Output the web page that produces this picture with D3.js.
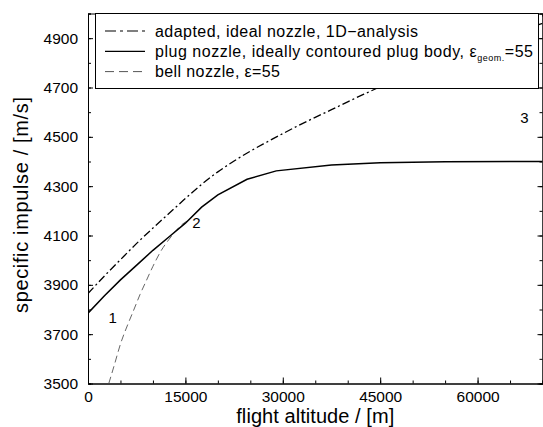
<!DOCTYPE html>
<html>
<head>
<meta charset="utf-8">
<script src="https://cdn.jsdelivr.net/npm/d3@7"></script>
<style>
  body { margin: 0; background: #fff; }
  svg { display: block; font-family: "Liberation Sans", Arial, Helvetica, sans-serif; }
  .axis path { stroke: #000; }
  .axis line { stroke: #000; }
</style>
</head>
<body>
<div id="chart"></div>
<script>
// flight altitude [m] vs. specific impulse [m/s]
const altAdapted = [0, 2500, 5000, 7500, 10000, 12500, 15000, 17500, 20000, 22500, 25000, 27500, 30000, 32500, 35000, 37500, 40000, 42500, 45000, 50000, 55000, 60000, 65000, 70000]
const ispAdapted = [3865, 3935, 4002, 4068, 4130, 4190, 4250, 4307, 4358, 4402, 4442, 4478, 4513, 4547, 4579, 4610, 4642, 4673, 4703, 4762, 4818, 4868, 4915, 4960]

const altPlug = [0, 2500, 5000, 7500, 10000, 12500, 15000, 17500, 20000, 24500, 29000, 37500, 45000, 55000, 70000]
const ispPlug = [3785, 3855, 3920, 3980, 4040, 4095, 4150, 4215, 4265, 4328, 4362, 4386, 4395, 4399, 4400]

const altBell = [3200, 4000, 5000, 6200, 7000, 8000, 9000, 10000, 11300, 12500, 13400, 14500, 15500]
const ispBell = [3500, 3570, 3660, 3744, 3795, 3860, 3918, 3975, 4040, 4085, 4115, 4145, 4162]

const xTicks = [0, 15000, 30000, 45000, 60000]
const xMinor = d3.range(0, 70001, 5000)
const yTicks = [3500, 3700, 3900, 4100, 4300, 4500, 4700, 4900]
const yMinor = d3.range(3500, 5001, 100)

const legendLabels = ["adapted, ideal nozzle, 1D\u2212analysis", "plug nozzle, ideally contoured plug body, \u03b5", "bell nozzle, \u03b5=55"]
const notes = [
    { label: "1", alt: 3800, isp: 3765 },
    { label: "2", alt: 16700, isp: 4150 },
    { label: "3", alt: 67200, isp: 4576 }
]

const W = 543, H = 427
const MARGIN = { LEFT: 88, RIGHT: 0.5, TOP: 13.5, BOTTOM: 43.5 }

const svg = d3.select("#chart").append("svg")
    .attr("width", W)
    .attr("height", H)

const x = d3.scaleLinear().domain([0, 70000]).range([MARGIN.LEFT, W - MARGIN.RIGHT])
const y = d3.scaleLinear().domain([3500, 5000]).range([H - MARGIN.BOTTOM, MARGIN.TOP])

svg.append("clipPath").attr("id", "clip")
    .append("rect")
    .attr("x", x(0)).attr("y", y(5000))
    .attr("width", x(70000) - x(0)).attr("height", y(3500) - y(5000))

// axes, ticks pointing inward
const fmt = d3.format("d")
svg.append("g").attr("class", "axis")
    .attr("transform", `translate(0, ${y(3500)})`)
    .call(d3.axisBottom(x).tickValues(xMinor).tickSize(-3).tickFormat(""))
svg.append("g").attr("class", "axis x")
    .attr("transform", `translate(0, ${y(3500)})`)
    .call(d3.axisBottom(x).tickValues(xTicks).tickSize(-6).tickSizeOuter(0).tickPadding(5).tickFormat(fmt))
svg.append("g").attr("class", "axis")
    .attr("transform", `translate(0, ${y(5000)})`)
    .call(d3.axisTop(x).tickValues(xMinor).tickSize(-3).tickFormat(""))
svg.append("g").attr("class", "axis")
    .attr("transform", `translate(${x(0)}, 0)`)
    .call(d3.axisLeft(y).tickValues(yMinor).tickSize(-3).tickFormat(""))
svg.append("g").attr("class", "axis y")
    .attr("transform", `translate(${x(0)}, 0)`)
    .call(d3.axisLeft(y).tickValues(yTicks).tickSize(-5).tickSizeOuter(0).tickPadding(10).tickFormat(fmt))
svg.append("g").attr("class", "axis")
    .attr("transform", `translate(${x(70000)}, 0)`)
    .call(d3.axisRight(y).tickValues(yMinor).tickSize(-3).tickFormat(""))
svg.append("g").attr("class", "axis")
    .attr("transform", `translate(${x(70000)}, 0)`)
    .call(d3.axisRight(y).tickValues(yTicks).tickSize(-5).tickSizeOuter(0).tickFormat(""))

svg.selectAll(".axis text").attr("font-size", "15.5px").attr("font-family", "Liberation Sans, Arial, sans-serif").attr("fill", "#000")
svg.selectAll(".axis.x text").attr("dy", "0.9em")

// axis titles
svg.append("text")
    .attr("x", (x(0) + x(70000)) / 2)
    .attr("y", 423)
    .attr("text-anchor", "middle")
    .attr("font-size", "20px")
    .attr("textLength", 158)
    .text("flight altitude / [m]")
svg.append("text")
    .attr("transform", `translate(28, 205) rotate(-90)`)
    .attr("text-anchor", "middle")
    .attr("font-size", "20px")
    .attr("textLength", 216)
    .text("specific impulse / [m/s]")

// curves
const smooth = d3.line().curve(d3.curveMonotoneX).x(d => x(d[0])).y(d => y(d[1]))
const line = d3.line().x(d => x(d[0])).y(d => y(d[1]))
const curves = svg.append("g").attr("clip-path", "url(#clip)")

curves.append("path")
    .datum(d3.zip(altBell, ispBell))
    .attr("d", smooth)
    .attr("fill", "none")
    .attr("stroke", "#555")
    .attr("stroke-width", 0.9)
    .attr("stroke-dasharray", "7,4")
curves.append("path")
    .datum(d3.zip(altAdapted, ispAdapted))
    .attr("d", smooth)
    .attr("fill", "none")
    .attr("stroke", "#000")
    .attr("stroke-width", 1.3)
    .attr("stroke-dasharray", "8,3,2,3")
curves.append("path")
    .datum(d3.zip(altPlug, ispPlug))
    .attr("d", line)
    .attr("fill", "none")
    .attr("stroke", "#000")
    .attr("stroke-width", 1.5)

// annotations
svg.selectAll(".note")
    .data(notes)
    .enter().append("text")
    .attr("class", "note")
    .attr("x", d => x(d.alt))
    .attr("y", d => y(d.isp))
    .attr("text-anchor", "middle")
    .attr("dy", "0.35em")
    .attr("font-size", "15px")
    .text(d => d.label)

// legend
const lg = svg.append("g")
lg.append("rect")
    .attr("x", 95.5).attr("y", 13.5)
    .attr("width", 443).attr("height", 75)
    .attr("fill", "#fff")
    .attr("stroke", "#000")
    .attr("stroke-width", 1)
const dashes = [
    { dash: "11,4,3,4", color: "#000", w: 1.2, len: 263 },
    { dash: null, color: "#000", w: 1.2, len: 378 },
    { dash: "9,5", color: "#555", w: 1, len: 125 }
]
legendLabels.forEach((lab, i) => {
    const cy = 31 + i * 20.3
    lg.append("line")
        .attr("x1", 105).attr("x2", 145)
        .attr("y1", cy).attr("y2", cy)
        .attr("stroke", dashes[i].color)
        .attr("stroke-width", dashes[i].w)
        .attr("stroke-dasharray", dashes[i].dash)
    const t = lg.append("text")
        .attr("x", 155)
        .attr("y", cy)
        .attr("dy", "0.35em")
        .attr("font-size", "16px")
        .attr("textLength", dashes[i].len)
        .text(lab)
    if (i === 1) {
        t.append("tspan").attr("font-size", "9px").attr("dy", "4").text("geom.")
        t.append("tspan").attr("dy", "-4").text("=55")
    }
})
</script>
</body>
</html>
